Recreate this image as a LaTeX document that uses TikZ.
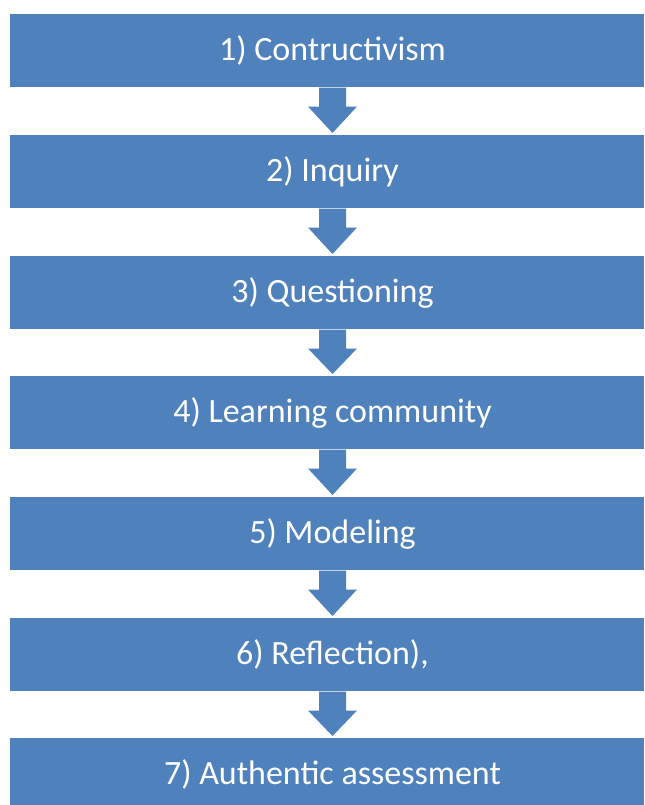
\documentclass[tikz,border=0pt]{standalone}
\usepackage{fontspec}
\setmainfont{Carlito}
\usetikzlibrary{calc}
\definecolor{boxblue}{HTML}{4F81BD}
\tikzset{
  stepbox/.style={fill=boxblue, draw=none, minimum width=634*0.75pt, minimum height=73*0.75pt,
    inner sep=0pt, anchor=north},
  steptext/.style={text=white, font=\fontsize{25.5pt}{30pt}\selectfont, inner sep=0pt, xshift=5.5*0.75pt},
  blockarrow/.style={fill=boxblue, draw=none}
}
\begin{document}
\begin{tikzpicture}[x=0.75pt,y=-0.75pt]
\useasboundingbox (0,0) rectangle (644,805);
\fill[white] (0,0) rectangle (644,805);
\clip (0,0) rectangle (644,805);
\node[stepbox, label={[steptext]center:1) Contructivism}] (b1) at (327,14) {};
\node[stepbox, label={[steptext]center:2) Inquiry}] (b2) at (327,135) {};
\node[stepbox, label={[steptext]center:3) Questioning}] (b3) at (327,256) {};
\node[stepbox, label={[steptext]center:4) Learning community}] (b4) at (327,376) {};
\node[stepbox, label={[steptext]center:5) Modeling}] (b5) at (327,497) {};
\node[stepbox, label={[steptext]center:6) Reflection),}] (b6) at (327,618) {};
\node[stepbox, label={[steptext]center:7) Authentic assessment}] (b7) at (327,738) {};
\foreach \a/\b in {b1/b2,b2/b3,b3/b4,b4/b5,b5/b6,b6/b7}{
  \coordinate (s) at ($(\a.south)+(5.5,0)$);
  \fill[blockarrow] ($(s)+(-13.5,0)$) -- ($(s)+(13.5,0)$)
    -- ($(s)+(13.5,19)$) -- ($(s)+(24.5,19)$)
    -- ($(\b.north)+(5.5,-2)$) -- ($(s)+(-24.5,19)$)
    -- ($(s)+(-13.5,19)$) -- cycle;
}
\end{tikzpicture}
\end{document}
